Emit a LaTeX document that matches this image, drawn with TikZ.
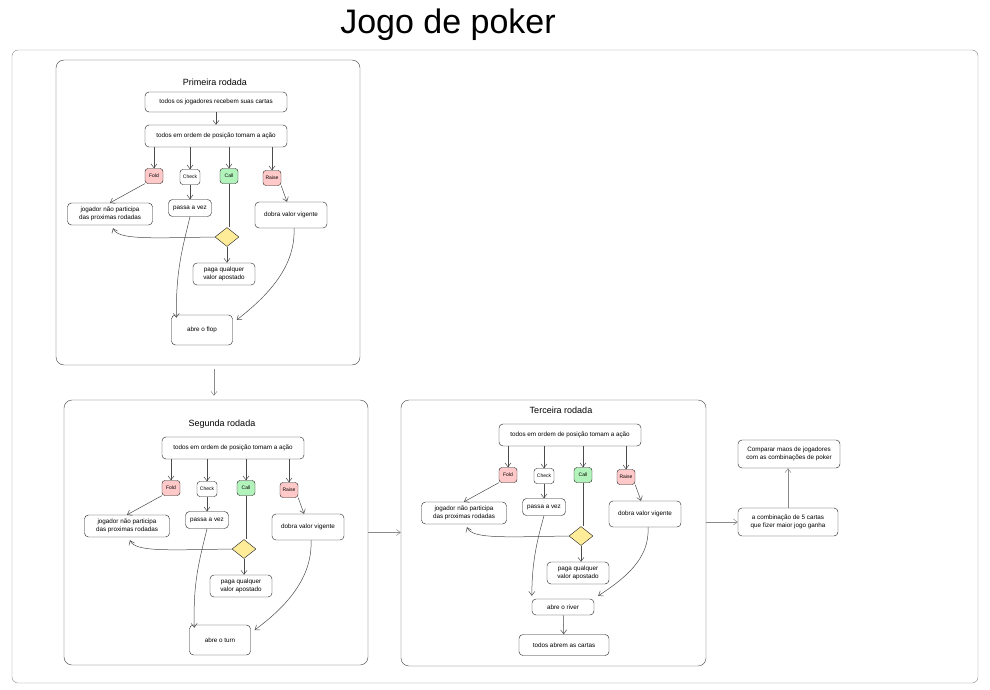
\documentclass[tikz,border=0pt]{standalone}
\usepackage{fontspec}
\setmainfont{Liberation Sans}
\usetikzlibrary{arrows.meta,shapes.geometric}

\definecolor{vermelho}{HTML}{FFC9C9}
\definecolor{verde}{HTML}{B2F2BB}
\definecolor{amarelo}{HTML}{FFEC99}
\definecolor{traco}{HTML}{1E1E1E}
\definecolor{cinza}{HTML}{8A8A8A}

% parte comum de cada rodada (coordenadas da primeira rodada)
\newcommand{\acoes}{%
\node[caixa, minimum width=142pt, minimum height=22pt] (ordem) at (216,136) {todos em ordem de posição tomam a ação};

\node[acao, fill=vermelho] (fold) at (154,176) {Fold};
\node[acao, minimum width=20pt] (check) at (190,177) {Check};
\node[acao, fill=verde] (call) at (229,176) {Call};
\node[acao, fill=vermelho] (raise) at (272,178) {Raise};

\node[caixa, minimum width=85pt, minimum height=22pt] (jogador) at (110,214) {jogador não participa\\das proximas rodadas};
\node[caixa, minimum width=43pt, minimum height=17pt] (passa) at (190,208) {passa a vez};
\node[caixa, minimum width=72pt, minimum height=26pt] (dobra) at (291,215) {dobra valor vigente};
\node[decisao] (decide) at (227,237) {};
\node[caixa, minimum width=62pt, minimum height=22pt] (paga) at (224,274) {paga qualquer\\valor apostado};

\draw[seta] (ordem.south -| fold) -- (fold);
\draw[seta] (ordem.south -| check) -- (check);
\draw[seta] (ordem.south -| call) -- (call);
\draw[seta] (ordem.south -| raise) -- (raise);

\draw[seta] (fold.south west) -- (jogador.north);
\draw[seta] (check) -- (passa);
\draw[liga] (call.south) -- (call.south |- decide.north);
\draw[seta] (decide.west) .. controls (150,238) and (118,240) .. ([xshift=3pt,yshift=-3pt]jogador.south);
\draw[seta] (decide.south) -- (paga.north -| decide);
\draw[seta] (raise.south east) -- ([xshift=-4pt]dobra.north);
}

\begin{document}
\begin{tikzpicture}[x=1pt, y=-1pt,
  caixa/.style={draw=traco, rounded corners=4pt, fill=white, align=center, inner sep=1pt,
    font=\fontsize{6.3}{7.5}\selectfont},
  acao/.style={draw=traco, rounded corners=3pt, fill=white, minimum width=18pt, minimum height=15pt,
    inner sep=1pt, font=\fontsize{5}{6}\selectfont},
  decisao/.style={diamond, draw=traco, fill=amarelo, minimum width=24pt, minimum height=19pt, inner sep=0pt},
  rodada/.style={draw=traco!85, rounded corners=8pt},
  seta/.style={-{Straight Barb[length=4pt, width=6pt]}, draw=traco!80, line width=0.5pt},
  liga/.style={draw=traco!80, line width=0.5pt},
  titulo/.style={font=\fontsize{9}{10}\selectfont}]

\useasboundingbox (0,0) rectangle (990,690);

\node[font=\fontsize{34}{36}\selectfont] (jogo) at (448,25) {Jogo de poker};
\draw[cinza, rounded corners=6pt] (12,50) rectangle (978,683);

\node[rodada, minimum width=304pt, minimum height=305pt] (primeira) at (208,212.5) {};
\node[rodada, minimum width=304pt, minimum height=265pt] (segunda) at (216,532.5) {};
\node[rodada, minimum width=305pt, minimum height=266pt] (terceira) at (553.5,533) {};

% primeira rodada
\node[titulo] (tprimeira) at (215,82) {Primeira rodada};
\node[caixa, minimum width=142pt, minimum height=20pt] (recebem) at (216,102) {todos os jogadores recebem suas cartas};
\begin{scope}[name prefix=p-]
\acoes
\node[caixa, minimum width=61pt, minimum height=30pt] (flop) at (202,330) {abre o flop};
\draw[seta] (passa.south) .. controls (182,250) and (176,270) .. ([xshift=5pt,yshift=-3pt]flop.north west);
\draw[seta] ([xshift=3pt]dobra.south) .. controls (296,270) and (262,300) .. ([xshift=4pt,yshift=10pt]flop.east);
\end{scope}
\draw[seta] (recebem) -- (p-ordem);

% segunda rodada
\node[titulo] (tsegunda) at (222,424) {Segunda rodada};
\begin{scope}[shift={(17,312)}, name prefix=s-]
\acoes
\node[caixa, minimum width=61pt, minimum height=30pt] (turn) at (203,328) {abre o turn};
\draw[seta] (passa.south) .. controls (182,250) and (176,270) .. ([xshift=5pt,yshift=-3pt]turn.north west);
\draw[seta] ([xshift=3pt]dobra.south) .. controls (296,270) and (262,300) .. ([xshift=4pt,yshift=10pt]turn.east);
\end{scope}

% terceira rodada
\node[titulo] (tterceira) at (561,410) {Terceira rodada};
\begin{scope}[shift={(354,299)}, name prefix=t-]
\acoes
\node[caixa, minimum width=62pt, minimum height=16pt] (river) at (209,308) {abre o river};
\node[caixa, minimum width=90pt, minimum height=21pt] (abrem) at (210,346) {todos abrem as cartas};
\draw[seta] (passa.south) .. controls (182,245) and (178,265) .. ([yshift=3pt]river.north west);
\draw[seta] ([xshift=3pt]dobra.south) .. controls (296,260) and (270,280) .. ([xshift=4pt,yshift=3pt]river.north east);
\draw[seta] (river) -- (abrem);
\end{scope}

% resultado
\node[caixa, minimum width=100pt, minimum height=28pt] (combina) at (788,522) {a combinação de 5 cartas\\que fizer maior jogo ganha};
\node[caixa, minimum width=102pt, minimum height=28pt] (compara) at (789,454) {Comparar maos de jogadores\\com as combinações de poker};

\draw[seta, draw=cinza, shorten <=4pt, shorten >=4pt] ([xshift=6pt]primeira.south) -- ([xshift=6pt]primeira.south |- segunda.north);
\draw[seta, draw=cinza] (segunda.east) -- (segunda.east -| terceira.west);
\draw[seta, draw=cinza] (terceira.east |- combina.west) -- (combina.west);
\draw[seta, draw=cinza] (combina.north) -- (compara.south -| combina.north);

\end{tikzpicture}
\end{document}
